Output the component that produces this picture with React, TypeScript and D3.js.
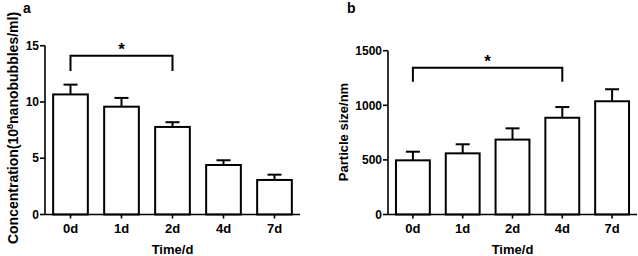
import React from 'react';
import * as d3 from 'd3';

// ---- data ----
const categories = ['0d', '1d', '2d', '4d', '7d'];
const concentrationMean = [10.67, 9.58, 7.78, 4.4, 3.07];
const concentrationErr = [0.87, 0.78, 0.42, 0.42, 0.47];
const concentrationTicks = [0, 5, 10, 15];
const sizeMean = [496, 560, 686, 886, 1037];
const sizeErr = [79, 83, 103, 98, 110];
const sizeTicks = [0, 500, 1000, 1500];
// significance bracket: [from, to, barY, legBottom]
const concentrationSig: [string, string, number, number] = ['0d', '2d', 14.1, 12.75];
const sizeSig: [string, string, number, number] = ['0d', '4d', 1343, 1215];

const FONT = 'Arial, "Liberation Sans", Helvetica, sans-serif';

type PanelProps = {
  letter: string;
  letterX: number;
  x0: number;
  x1: number;
  y0: number;
  yTop: number;
  domainMax: number;
  ticks: number[];
  mean: number[];
  err: number[];
  sig: [string, string, number, number];
  yTitle: React.ReactNode;
  yTitleX: number;
  yTitleY: number;
  yTitleSize: number;
};

function Panel(p: PanelProps) {
  const x = d3.scaleBand<string>().domain(categories).range([p.x0, p.x1]).paddingInner(0.32).paddingOuter(0.16);
  const y = d3.scaleLinear().domain([0, p.domainMax]).range([p.y0, p.yTop]);
  const bw = x.bandwidth();
  const cap = 14;
  const cx = (c: string) => (x(c) as number) + bw / 2;
  const [sFrom, sTo, sY, sLeg] = p.sig;
  return (
    <g>
      <text x={p.letterX} y={13} fontFamily={FONT} fontWeight="bold" fontSize={14}>{p.letter}</text>
      {categories.map((c, i) => (
        <g key={c}>
          <line x1={cx(c)} x2={cx(c)} y1={y(p.mean[i])} y2={y(p.mean[i] + p.err[i])} stroke="#000" strokeWidth={2} />
          <line x1={cx(c) - cap / 2} x2={cx(c) + cap / 2} y1={y(p.mean[i] + p.err[i])} y2={y(p.mean[i] + p.err[i])} stroke="#000" strokeWidth={2} />
          <rect x={x(c)} y={y(p.mean[i])} width={bw} height={p.y0 - y(p.mean[i])} fill="#fff" stroke="#000" strokeWidth={2} />
        </g>
      ))}
      {/* axes */}
      <line x1={p.x0} x2={p.x0} y1={p.y0} y2={p.yTop} stroke="#000" strokeWidth={1.6} />
      <line x1={p.x0} x2={p.x1} y1={p.y0} y2={p.y0} stroke="#000" strokeWidth={1.6} />
      {p.ticks.map((t) => (
        <g key={t}>
          <line x1={p.x0 - 5} x2={p.x0} y1={y(t)} y2={y(t)} stroke="#000" strokeWidth={1.6} />
          <text x={p.x0 - 6} y={y(t)} dy="0.35em" textAnchor="end" fontFamily={FONT} fontWeight="bold" fontSize={12}>{t}</text>
        </g>
      ))}
      {categories.map((c) => (
        <g key={c}>
          <line x1={cx(c)} x2={cx(c)} y1={p.y0} y2={p.y0 + 4} stroke="#000" strokeWidth={1.6} />
          <text x={cx(c)} y={233} textAnchor="middle" fontFamily={FONT} fontWeight="bold" fontSize={13}>{c}</text>
        </g>
      ))}
      <text x={(p.x0 + p.x1) / 2} y={254} textAnchor="middle" fontFamily={FONT} fontWeight="bold" fontSize={13}>Time/d</text>
      <text transform={`translate(${p.yTitleX},${p.yTitleY}) rotate(-90)`} textAnchor="middle" fontFamily={FONT} fontWeight="bold" fontSize={p.yTitleSize}>{p.yTitle}</text>
      {/* significance bracket */}
      <path d={`M${cx(sFrom)},${y(sLeg)}V${y(sY)}H${cx(sTo)}V${y(sLeg)}`} fill="none" stroke="#000" strokeWidth={2} />
      <text x={(cx(sFrom) + cx(sTo)) / 2} y={y(sY) - 1} textAnchor="middle" fontFamily={FONT} fontWeight="bold" fontSize={17}>*</text>
    </g>
  );
}

export default function App() {
  return (
    <svg width={638} height={256} style={{ position: 'absolute', left: 0, top: 0, background: '#fff' }}>
      <rect width={638} height={256} fill="#fff" />
      <Panel
        letter="a" letterX={23}
        x0={45} x1={300} y0={214.5} yTop={45.7} domainMax={15} ticks={concentrationTicks}
        mean={concentrationMean} err={concentrationErr} sig={concentrationSig}
        yTitle={<>
          <tspan>Concentration(10</tspan>
          <tspan dy={-5} fontSize={9}>8</tspan>
          <tspan dy={5}>nanobubbles/ml)</tspan>
        </>}
        yTitleX={18} yTitleY={128} yTitleSize={14}
      />
      <Panel
        letter="b" letterX={347}
        x0={388} x1={637} y0={214.5} yTop={50.7} domainMax={1500} ticks={sizeTicks}
        mean={sizeMean} err={sizeErr} sig={sizeSig}
        yTitle="Particle size/nm"
        yTitleX={347.5} yTitleY={132} yTitleSize={13}
      />
    </svg>
  );
}
